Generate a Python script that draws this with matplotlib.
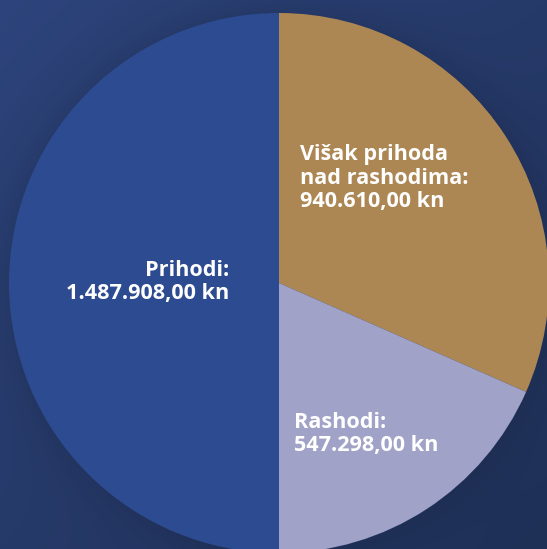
import numpy as np
import matplotlib
matplotlib.use("Agg")
import matplotlib.pyplot as plt
from matplotlib.colors import to_rgb

# data
labels = ["Višak prihoda\nnad rashodima:\n940.610,00 kn", "Rashodi:\n547.298,00 kn", "Prihodi:\n1.487.908,00 kn"]
values = [940610.00, 547298.00, 1487908.00]
colors = ["#ad8753", "#a0a2c8", "#2d4b91"]

W, H = 547, 549
CX, CY, R = 279, 549 - 283, 270
FONT = ["Open Sans", "DejaVu Sans"]

fig = plt.figure(figsize=(W / 100, H / 100), dpi=100)
ax = fig.add_axes([0, 0, 1, 1])
ax.set_xlim(0, W); ax.set_ylim(0, H); ax.axis("off")

# background: diagonal gradient + soft shadow around the pie
yy, xx = np.mgrid[H:0:-1, 0:W].astype(float)
t = xx / W * 0.5 + (H - yy) / H * 0.5  # 0 top-left, 1 bottom-right
c0, c1 = np.array(to_rgb("#2d447c")), np.array(to_rgb("#1f3057"))
img = c0[None, None, :] * (1 - t[..., None]) + c1[None, None, :] * t[..., None]
d = np.hypot(xx - CX, yy - CY) - R
shade = np.where(d > 0, 1 - 0.10 * np.exp(-d / 22.0), 1.0)
img = img * shade[..., None]
ax.imshow(np.clip(img, 0, 1), extent=(0, W, 0, H), origin="upper", zorder=0, aspect="auto")

ax.pie(values, colors=colors, startangle=90, counterclock=False,
       center=(CX, CY), radius=R, wedgeprops=dict(linewidth=0), frame=True)
ax.set_xlim(0, W); ax.set_ylim(0, H); ax.axis("off")

kw = dict(color="white", fontsize=15.6, weight="bold", family=FONT, linespacing=1.13, va="center", zorder=5)
ax.text(300, H - 178, labels[0], ha="left", **kw)
ax.text(294, H - 434, labels[1], ha="left", **kw)
ax.text(229, H - 282, labels[2], ha="right", multialignment="right", **kw)

fig.savefig("out.png", dpi=100)
